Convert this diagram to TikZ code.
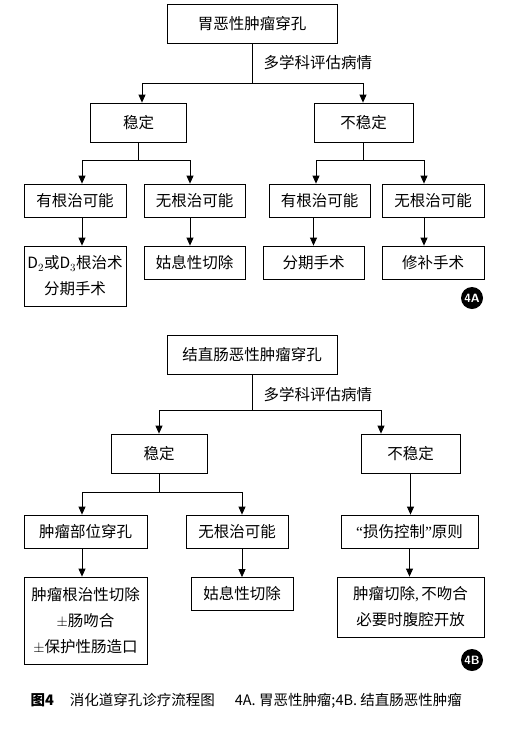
\documentclass[tikz,border=0pt]{standalone}
\usepackage{fontspec}
\setmainfont{Noto Sans CJK SC}
\newfontfamily\latinfont{Liberation Serif}
\usepackage{tikz}
\usetikzlibrary{arrows.meta}

\begin{document}
\begin{tikzpicture}[x=1pt,y=-1pt,
	box/.style={draw,line width=0.8pt,inner sep=0pt,align=center,font=\fontsize{15.5}{26}\selectfont},
	line/.style={line width=0.8pt},
	arr/.style={line width=0.8pt,-{Triangle[length=8pt,width=7pt]}},
	badge/.style={circle,fill=black,text=white,inner sep=0pt,minimum size=22pt,font=\sffamily\bfseries\fontsize{12}{12}\selectfont}]
	 \useasboundingbox (0,0) rectangle (507,729);
	 \node[box,minimum width=170pt,minimum height=39pt] (top1) at (252,23.5) {胃恶性肿瘤穿孔};
	 \node[anchor=west,font=\fontsize{15.5}{15.5}\selectfont] (mdt1) at (260,63) {多学科评估病情};
	 \node[box,minimum width=96pt,minimum height=39pt] (stable1) at (138.5,122.5) {稳定};
	 \node[box,minimum width=99pt,minimum height=39pt] (unstable1) at (363.5,122.5) {不稳定};
	 \node[box,minimum width=102pt,minimum height=33pt] (cure1) at (75,200.5) {有根治可能};
	 \node[box,minimum width=101pt,minimum height=33pt] (nocure1) at (194.5,200.5) {无根治可能};
	 \node[box,minimum width=101pt,minimum height=33pt] (cure2) at (319.5,200.5) {有根治可能};
	 \node[box,minimum width=102pt,minimum height=33pt] (nocure2) at (433,200.5) {无根治可能};
	 \node[box,minimum width=102pt,minimum height=60pt] (res1) at (75,276) {D$_2$或D$_3$根治术\\分期手术};
	 \node[box,minimum width=101pt,minimum height=33pt] (pal1) at (194.5,262.5) {姑息性切除};
	 \node[box,minimum width=101pt,minimum height=33pt] (stage2) at (313.5,262.5) {分期手术};
	 \node[box,minimum width=102pt,minimum height=33pt] (repair) at (433,262.5) {修补手术};
	 \node[badge] (tagA) at (472,298) {4A};
	 \coordinate (j1l) at (142,83);
	 \coordinate (j1r) at (363,83);
	 \coordinate (k1l) at (82,160);
	 \coordinate (k1r) at (190,160);
	 \coordinate (k2l) at (316,160);
	 \coordinate (k2r) at (424,160);
	 \draw[line] (top1.south) -- (top1.south |- j1l);
	 \draw[line] (j1l) -- (j1r);
	 \draw[arr] (j1l) -- (j1l |- stable1.north);
	 \draw[arr] (j1r) -- (j1r |- unstable1.north);
	 \draw[line] (stable1.south) -- (stable1.south |- k1l);
	 \draw[line] (k1l) -- (k1r);
	 \draw[arr] (k1l) -- (k1l |- cure1.north);
	 \draw[arr] (k1r) -- (k1r |- nocure1.north);
	 \draw[line] (unstable1.south) -- (unstable1.south |- k2l);
	 \draw[line] (k2l) -- (k2r);
	 \draw[arr] (k2l) -- (k2l |- cure2.north);
	 \draw[arr] (k2r) -- (k2r |- nocure2.north);
	 \draw[arr] (cure1.south -| k1l) -- (res1.north -| k1l);
	 \draw[arr] (nocure1.south -| k1r) -- (pal1.north -| k1r);
	 \draw[arr] (cure2.south -| stage2.north) -- (stage2.north);
	 \draw[arr] (nocure2.south -| k2r) -- (repair.north -| k2r);
	 \node[box,minimum width=170pt,minimum height=39pt] (top2) at (252,354.5) {结直肠恶性肿瘤穿孔};
	 \node[anchor=west,font=\fontsize{15.5}{15.5}\selectfont] (mdt2) at (260,395) {多学科评估病情};
	 \node[box,minimum width=96pt,minimum height=39pt] (stable2) at (159,453.5) {稳定};
	 \node[box,minimum width=99pt,minimum height=39pt] (unstable2) at (410.5,453.5) {不稳定};
	 \node[box,minimum width=123pt,minimum height=33pt] (site) at (85.5,531.5) {肿瘤部位穿孔};
	 \node[box,minimum width=102pt,minimum height=33pt] (nocure3) at (237,531.5) {无根治可能};
	 \node[box,minimum width=137pt,minimum height=33pt] (damage) at (409.5,531.5) {{\latinfont “}损伤控制{\latinfont ”}原则};
	 \node[box,minimum width=123pt,minimum height=87pt] (radical) at (85.5,620.5) {肿瘤根治性切除\\$\pm$肠吻合\\$\pm$保护性肠造口};
	 \node[box,minimum width=102pt,minimum height=33pt] (pal2) at (242,594) {姑息性切除};
	 \node[box,minimum width=147pt,minimum height=60pt] (open) at (410.5,607) {肿瘤切除{\latinfont ,}\,不吻合\\必要时腹腔开放};
	 \node[badge] (tagB) at (472,660) {4B};
	 \coordinate (j2l) at (159,410);
	 \coordinate (j2r) at (381,410);
	 \coordinate (m1l) at (82,492);
	 \coordinate (m1r) at (242,492);
	 \draw[line] (top2.south) -- (top2.south |- j2l);
	 \draw[line] (j2l) -- (j2r);
	 \draw[arr] (j2l) -- (j2l |- stable2.north);
	 \draw[arr] (j2r) -- (j2r |- unstable2.north);
	 \draw[line] (stable2.south) -- (stable2.south |- m1l);
	 \draw[line] (m1l) -- (m1r);
	 \draw[arr] (m1l) -- (m1l |- site.north);
	 \draw[arr] (m1r) -- (m1r |- nocure3.north);
	 \draw[arr] (unstable2.south) -- (unstable2.south |- damage.north);
	 \draw[arr] (site.south -| m1l) -- (radical.north -| m1l);
	 \draw[arr] (nocure3.south -| pal2.north) -- (pal2.north);
	 \draw[arr] (damage.south) -- (damage.south |- open.north);
	 \node[anchor=west,font=\fontsize{14.5}{14.5}\selectfont] (cap) at (27,701) {\textbf{图4}\hspace{16pt}消化道穿孔诊疗流程图\hspace{20pt}4A. 胃恶性肿瘤;4B. 结直肠恶性肿瘤};
	 \end{tikzpicture}
\end{document}
